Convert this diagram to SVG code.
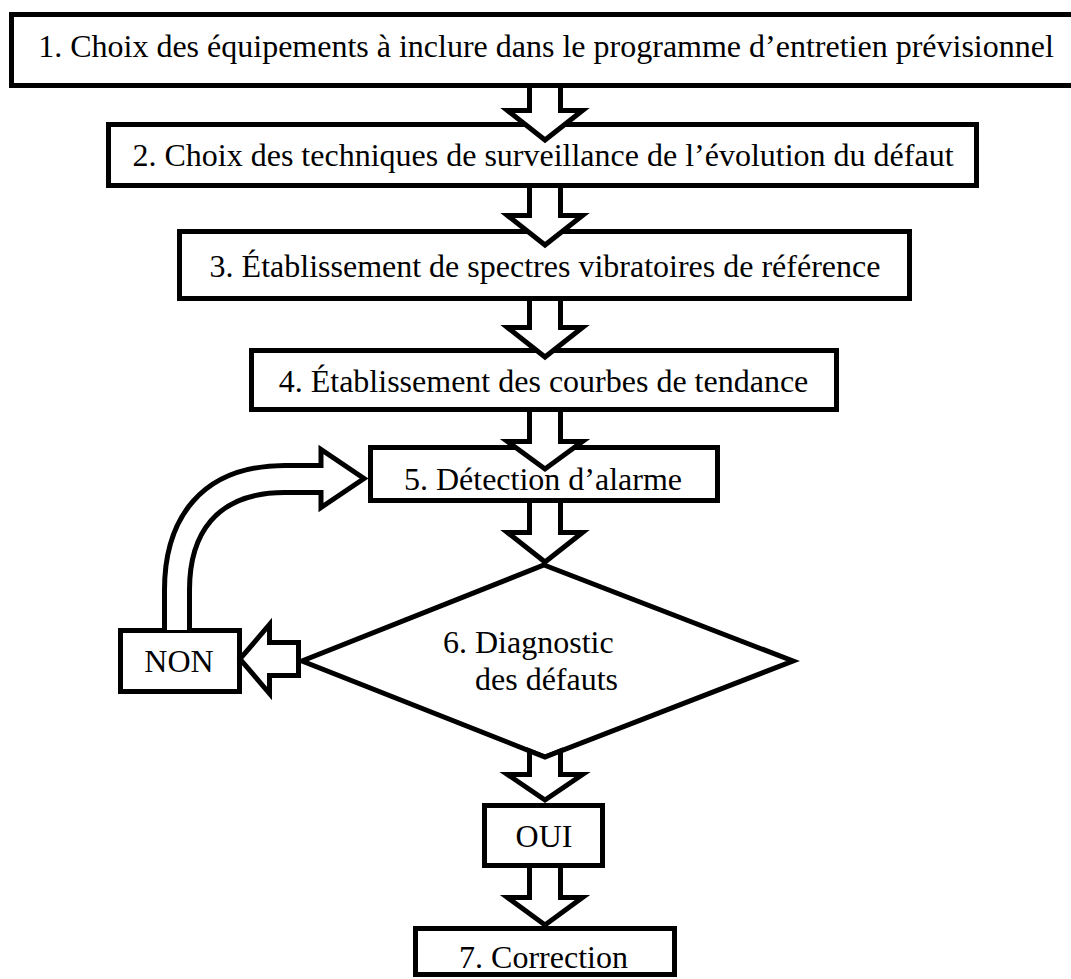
<svg xmlns="http://www.w3.org/2000/svg" width="1071" height="979" viewBox="0 0 1071 979">
<style>
.box{fill:#fff;stroke:#000;stroke-width:5;stroke-linejoin:miter}
.arr{fill:#fff;stroke:#000;stroke-width:5;stroke-linejoin:miter;stroke-miterlimit:10}
text{font-family:"Liberation Serif","Times New Roman",serif;font-size:32px;fill:#000}
.c{text-anchor:middle}
</style>
<rect width="1071" height="979" fill="#fff"/>
<g id="n1"><rect class="box" x="11.5" y="14.5" width="1070" height="71"/><text class="c" x="546" y="57">1. Choix des équipements à inclure dans le programme d’entretien prévisionnel</text></g>
<g id="n2"><rect class="box" x="108.5" y="124.5" width="868" height="61"/><text class="c" x="543" y="166">2. Choix des techniques de surveillance de l’évolution du défaut</text></g>
<g id="n3"><rect class="box" x="179.5" y="231.5" width="730" height="67"/><text class="c" x="545" y="277">3. Établissement de spectres vibratoires de référence</text></g>
<g id="n4"><rect class="box" x="251.5" y="350.5" width="585" height="59"/><text class="c" x="543.5" y="392">4. Établissement des courbes de tendance</text></g>
<g id="n5"><rect class="box" x="370.5" y="447.5" width="347" height="53"/><text class="c" x="543" y="490">5. Détection d’alarme</text></g>
<g id="n6"><polygon class="box" points="544,565 793,661 545,757 302,661"/><text x="443" y="653">6. Diagnostic</text><text x="475" y="690">des défauts</text></g>
<g id="non"><rect class="box" x="120.5" y="630.5" width="119" height="61"/><text class="c" x="179" y="672">NON</text></g>
<g id="oui"><rect class="box" x="484.5" y="805.5" width="118" height="60"/><text class="c" x="544" y="847">OUI</text></g>
<g id="n7"><rect class="box" x="415.5" y="928.5" width="259" height="46"/><text class="c" x="543.5" y="968">7. Correction</text></g>
<g id="connectors">
<path class="arr" d="M529.5,88 V110.5 H507.5 L545,140 L582.5,110.5 H560.5 V88"/>
<path class="arr" d="M529.5,188 V215.5 H507.5 L545,245 L582.5,215.5 H560.5 V188"/>
<path class="arr" d="M529.5,301 V327.5 H507.5 L545,357 L582.5,327.5 H560.5 V301"/>
<path class="arr" d="M529.5,412 V441.5 H507.5 L545,469 L582.5,441.5 H560.5 V412"/>
<path class="arr" d="M529.5,503 V532.5 H507.5 L545,562 L582.5,532.5 H560.5 V503"/>
<path class="arr" d="M529.5,751 V774.5 H507.5 L545,800 L582.5,774.5 H560.5 V751 L545,757 Z"/>
<path class="arr" d="M529.5,868 V897.5 H507.5 L545,925 L582.5,897.5 H560.5 V868"/>
<path class="arr" d="M298.5,642.5 H269.5 V624.5 L240,659 L269.5,693.5 V675.5 H298.5 Z"/>
<path class="arr" d="M164.5,630 V590 C164.5,520 200,465.5 285,465.5 H321 V449.5 L364,478.5 L321,507.5 V492.5 H285 C215,492.5 189.5,535 189.5,590 V630"/>
</g>
</svg>
